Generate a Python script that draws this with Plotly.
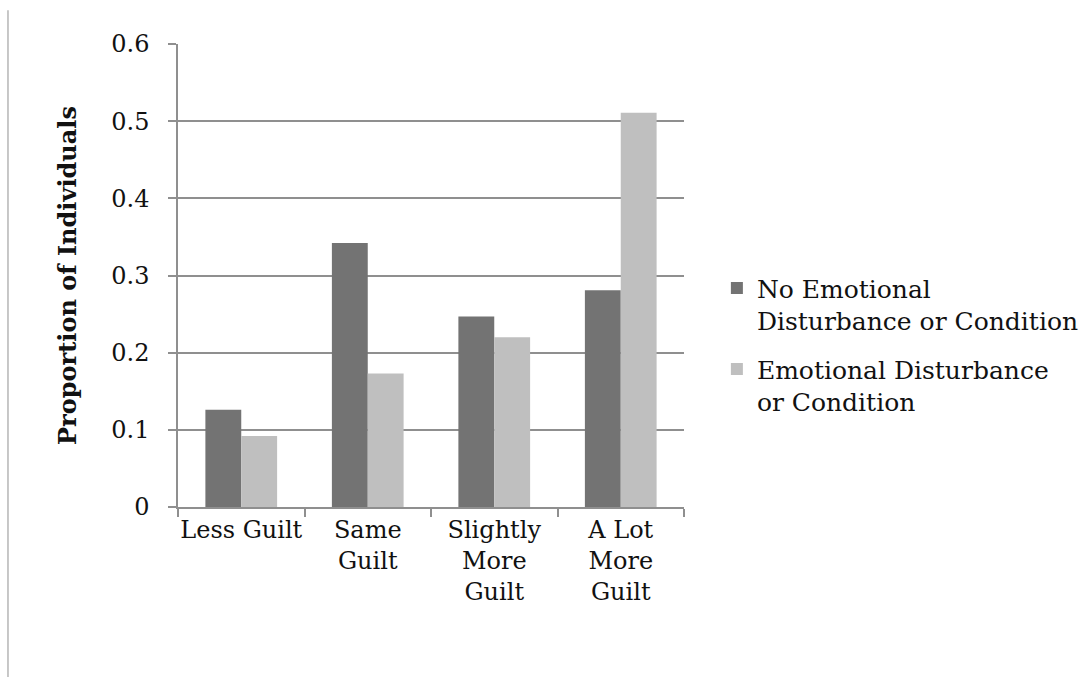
import plotly.graph_objects as go

# Guilt response categories (x axis)
categories = ["Less Guilt", "Same<br>Guilt", "Slightly<br>More<br>Guilt", "A Lot<br>More<br>Guilt"]

# Proportion of individuals in each group
no_disturbance = [0.126, 0.342, 0.247, 0.281]
with_disturbance = [0.092, 0.173, 0.220, 0.511]

series_names = [
    "No Emotional<br>Disturbance or Condition",
    "Emotional Disturbance<br>or Condition",
]
y_ticks = [0, 0.1, 0.2, 0.3, 0.4, 0.5, 0.6]
y_tick_text = ["0", "0.1", "0.2", "0.3", "0.4", "0.5", "0.6"]

FONT = "DejaVu Serif"
AXIS_GREY = "#8f8f8f"
TEXT = "#111111"

fig = go.Figure()
fig.add_trace(go.Bar(x=categories, y=no_disturbance, name=series_names[0],
                     legendgroup="a",
                     marker=dict(color="#737373", line=dict(width=0))))
fig.add_trace(go.Bar(x=categories, y=with_disturbance, name=series_names[1],
                     legendgroup="b",
                     marker=dict(color="#bfbfbf", line=dict(width=0))))

fig.update_layout(
    width=1089, height=677,
    margin=dict(l=178, r=405, t=44, b=170, autoexpand=False),
    paper_bgcolor="white", plot_bgcolor="white",
    barmode="group", bargap=0.433, bargroupgap=0,
    font=dict(family=FONT, size=24, color=TEXT),
    showlegend=True,
    legend=dict(
        x=1.065, xanchor="left", y=0.522, yanchor="top",
        font=dict(family=FONT, size=25, color=TEXT),
        valign="top", traceorder="grouped", tracegroupgap=13,
        bgcolor="rgba(0,0,0,0)",
    ),
    shapes=[dict(type="line", xref="paper", yref="paper",
                 x0=-0.336, x1=-0.336, y0=-0.37, y1=1.073,
                 line=dict(color="#b5b5b5", width=1.5))],
)

fig.update_xaxes(
    showline=True, linecolor=AXIS_GREY, linewidth=1.5,
    ticks="outside", ticklen=8, tickcolor=AXIS_GREY, tickwidth=1.5,
    tickson="boundaries", showgrid=False, tickangle=0, automargin=False,
    tickfont=dict(family=FONT, size=24, color=TEXT),
)
fig.update_yaxes(
    range=[0, 0.6], tickvals=y_ticks, ticktext=y_tick_text,
    showline=True, linecolor=AXIS_GREY, linewidth=1.5,
    ticks="outside", ticklen=8, tickcolor=AXIS_GREY, tickwidth=1.5,
    ticklabelstandoff=14, automargin=False,
    showgrid=True, gridcolor=AXIS_GREY, gridwidth=1.5,
    zeroline=False,
    tickfont=dict(family=FONT, size=24, color=TEXT),
    title=dict(text="<b>Proportion of Individuals</b>",
               font=dict(family=FONT, size=24, color=TEXT),
               standoff=28),
)

fig.write_html("out.html")
